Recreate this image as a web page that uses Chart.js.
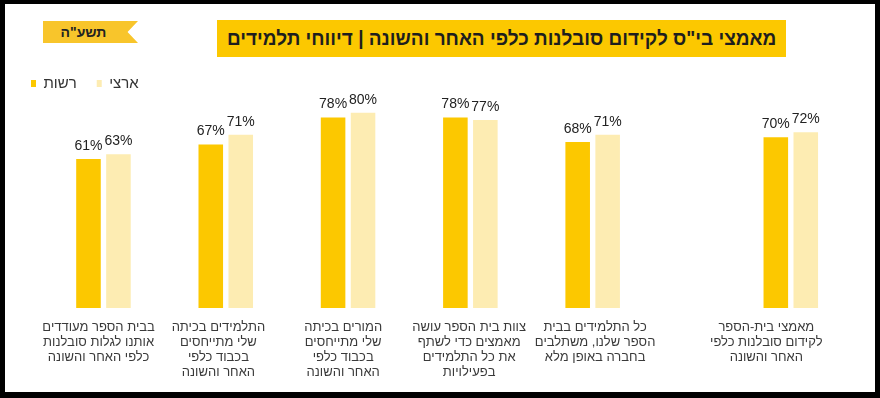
<!DOCTYPE html>
<html lang="he">
<head>
<meta charset="utf-8">
<script src="https://cdn.jsdelivr.net/npm/chart.js@4/dist/chart.umd.min.js"></script>
<style>
  html, body { margin: 0; padding: 0; background: #000; }
  body { width: 880px; height: 398px; position: relative; overflow: hidden; }
  #frame { position: absolute; left: 5px; top: 4px; width: 870px; height: 388px; background: #fff; }
  #chart { position: absolute; left: 0; top: 0; }
  .tag {
    position: absolute; left: 43px; top: 21px; width: 95px; height: 22px;
    background: #f8c52b; clip-path: polygon(0 0, 100% 0, 89% 50%, 100% 100%, 0 100%);
    font: bold 14px "Liberation Sans", sans-serif; color: #222; line-height: 22px;
    text-align: center; padding-right: 14px; box-sizing: border-box; direction: rtl;
  }
  .title {
    position: absolute; left: 217px; top: 20px; width: 569px; height: 37px;
    background: #fcc800; font: bold 20px "Liberation Sans", sans-serif; color: #1e1e1e;
    line-height: 37px; text-align: right; direction: rtl; white-space: nowrap;
    padding-right: 10px; box-sizing: border-box;
  }
  .title span { display: inline-block; transform: scaleX(0.95); transform-origin: right center; }
</style>
</head>
<body>
<div id="frame"></div>
<div class="tag">תשע"ה</div>
<div class="title"><span>מאמצי בי"ס לקידום סובלנות כלפי האחר והשונה | דיווחי תלמידים</span></div>
<canvas id="chart" width="880" height="398"></canvas>
<script>
// נתונים
const categories = [
  ['בבית הספר מעודדים', 'אותנו לגלות סובלנות', 'כלפי האחר והשונה'],
  ['התלמידים בכיתה', 'שלי מתייחסים', 'בכבוד כלפי', 'האחר והשונה'],
  ['המורים בכיתה', 'שלי מתייחסים', 'בכבוד כלפי', 'האחר והשונה'],
  ['צוות בית הספר עושה', 'מאמצים כדי לשתף', 'את כל התלמידים', 'בפעילויות'],
  ['כל התלמידים בבית', 'הספר שלנו, משתלבים', 'בחברה באופן מלא'],
  ['מאמצי בית-הספר', 'לקידום סובלנות כלפי', 'האחר והשונה']
];
const seriesNames = ['רשות', 'ארצי'];
const reshutValues = [61, 67, 78, 78, 68, 70];
const artziValues = [63, 71, 80, 77, 71, 72];

// מיקום הקבוצות על הציר (הקבוצה האחרונה מרוחקת), ומיקום התוויות שמתחתן
const groupSlots = [0, 1, 2, 3, 4, 5.62];
const labelSlots = [-0.04, 0.94, 1.96, 2.99, 4.02, 5.42];

const toPoints = vals => vals.map((v, i) => ({ x: groupSlots[i], y: v }));

// תוויות ערך מעל העמודות
const valueLabels = {
  id: 'valueLabels',
  afterDatasetsDraw(chart) {
    const ctx = chart.ctx;
    ctx.save();
    ctx.font = '14px "Liberation Sans", sans-serif';
    ctx.fillStyle = '#222';
    ctx.textAlign = 'center';
    ctx.textBaseline = 'bottom';
    chart.data.datasets.forEach((ds, di) => {
      chart.getDatasetMeta(di).data.forEach((bar, i) => {
        ctx.fillText(ds.data[i].y + '%', bar.x, bar.y - 6);
      });
    });
    ctx.restore();
  }
};

new Chart(document.getElementById('chart'), {
  type: 'bar',
  data: {
    datasets: [
      { label: seriesNames[0], data: toPoints(reshutValues), backgroundColor: '#fcc800' },
      { label: seriesNames[1], data: toPoints(artziValues), backgroundColor: '#fdecb2' }
    ]
  },
  options: {
    responsive: false,
    animation: false,
    categoryPercentage: 0.5,
    barPercentage: 0.82,
    layout: { padding: { left: 11, right: 8, top: 56, bottom: 6 } },
    plugins: {
      legend: {
        position: 'top',
        align: 'start',
        labels: {
          boxWidth: 5,
          boxHeight: 7,
          padding: 20,
          color: '#333',
          font: { family: '"Liberation Sans", sans-serif', size: 15 }
        }
      },
      tooltip: { enabled: false }
    },
    scales: {
      x: {
        type: 'linear',
        offset: false,
        min: -0.756,
        max: 6.284,
        grid: { display: false, drawTicks: false, offset: false },
        border: { display: false },
        afterBuildTicks: axis => { axis.ticks = labelSlots.map(v => ({ value: v })); },
        afterFit: axis => { axis.paddingLeft = 0; axis.paddingRight = 0; },
        ticks: {
          autoSkip: false,
          maxRotation: 0,
          padding: 12,
          color: '#3a3a3a',
          font: { family: '"Liberation Sans", sans-serif', size: 13, lineHeight: '15px' },
          callback: (val, i) => categories[i]
        }
      },
      y: {
        display: false,
        min: 0,
        max: 84.8
      }
    }
  },
  plugins: [valueLabels]
});
</script>
</body>
</html>
